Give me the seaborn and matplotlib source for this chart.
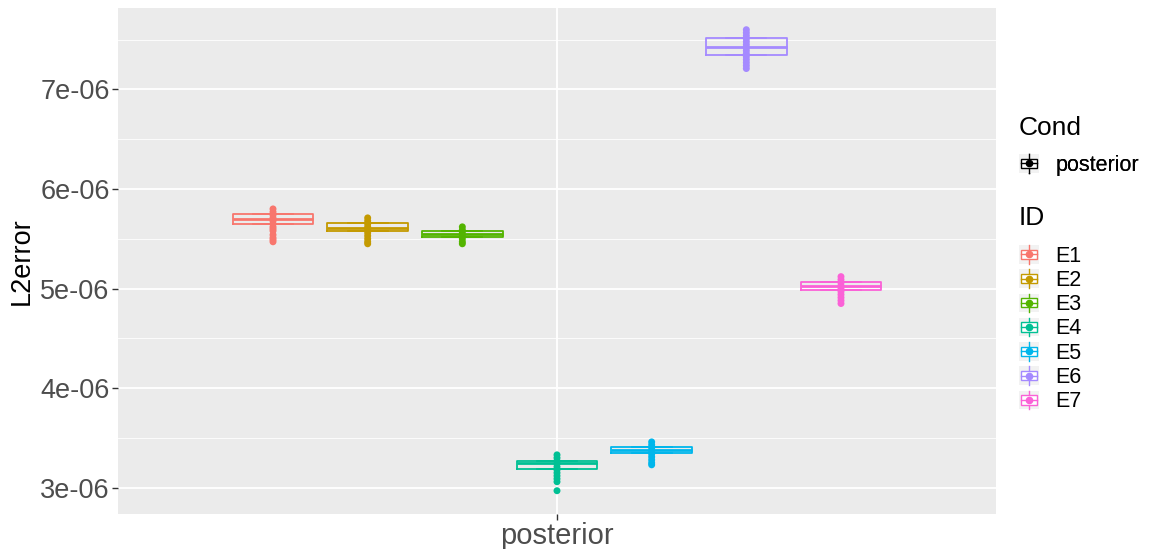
import numpy as np
import pandas as pd
import matplotlib
matplotlib.use('Agg')
import matplotlib.pyplot as plt
import seaborn as sns
from matplotlib.legend_handler import HandlerBase
from matplotlib.patches import Rectangle
from matplotlib.lines import Line2D
from matplotlib.ticker import FuncFormatter, MultipleLocator

# values in units of 1e-6
ids = ['E1', 'E2', 'E3', 'E4', 'E5', 'E6', 'E7']
q1 = [5.647, 5.582, 5.522, 3.190, 3.347, 7.346, 4.987]
med = [5.697, 5.605, 5.548, 3.247, 3.380, 7.427, 5.027]
q3 = [5.752, 5.657, 5.579, 3.273, 3.404, 7.514, 5.070]

pts = {
    'E1': [5.80, 5.77, 5.74, 5.71, 5.68, 5.65, 5.62, 5.60, 5.58, 5.54, 5.51, 5.49, 5.47],
    'E2': [5.71, 5.68, 5.65, 5.62, 5.59, 5.56, 5.53, 5.50, 5.47, 5.45],
    'E3': [5.62, 5.59, 5.56, 5.53, 5.50, 5.47, 5.45],
    'E4': [3.33, 3.30, 3.27, 3.24, 3.21, 3.18, 3.15, 3.12, 3.09, 3.06, 2.97],
    'E5': [3.46, 3.43, 3.40, 3.37, 3.34, 3.31, 3.28, 3.25, 3.23],
    'E6': [7.60, 7.57, 7.54, 7.51, 7.48, 7.45, 7.42, 7.39, 7.36, 7.33, 7.30, 7.27, 7.24, 7.21],
    'E7': [5.12, 5.09, 5.06, 5.03, 5.00, 4.97, 4.94, 4.91, 4.88, 4.85],
}
cond = 'posterior'
colors = ['#F8766D', '#C49A00', '#53B400', '#00C094', '#00B6EB', '#A58AFF', '#FB61D7']

# box table: q1, q1, median, q3, q3 per ID -> zero-length whiskers
box_rows = []
for i, e in enumerate(ids):
    for v in [q1[i], q1[i], med[i], q3[i], q3[i]]:
        box_rows.append({'Cond': cond, 'ID': e, 'L2error': v * 1e-6})
box_df = pd.DataFrame(box_rows)

pt_rows = []
for e in ids:
    for v in pts[e]:
        pt_rows.append({'Cond': cond, 'ID': e, 'L2error': v * 1e-6})
pt_df = pd.DataFrame(pt_rows)

plt.rcParams['font.family'] = ['Liberation Sans', 'DejaVu Sans']

fig = plt.figure(figsize=(11.51, 5.49), dpi=100)
ax = fig.add_axes([118 / 1151, 1 - 514 / 549, (996 - 118) / 1151, (514 - 8) / 549])
ax.set_facecolor('#EBEBEB')

pal = dict(zip(ids, colors))
sns.boxplot(data=box_df, x='Cond', y='L2error', hue='ID', hue_order=ids, palette=pal,
            width=0.8, gap=0.15, fill=False, linewidth=1.3, showfliers=False,
            medianprops={'linewidth': 2.0}, legend=False, ax=ax)
for p in ax.patches:
    p.set_fill(True)
    p.set_facecolor('white')
    p.set_zorder(2)
for ln in ax.lines:
    ln.set_zorder(2.5)

sns.stripplot(data=pt_df, x='Cond', y='L2error', hue='ID', hue_order=ids, palette=pal,
              dodge=True, jitter=False, size=5, linewidth=0, legend=False, zorder=3, ax=ax)

ax.set_xlim(-0.53, 0.53)
ax.set_ylim(2.736e-6, 7.818e-6)
ax.yaxis.set_major_locator(MultipleLocator(1e-6))
ax.yaxis.set_minor_locator(MultipleLocator(0.5e-6))
ax.yaxis.set_major_formatter(FuncFormatter(lambda v, p: '%.0e' % v))
ax.grid(which='major', color='white', linewidth=1.3, zorder=0)
ax.grid(which='minor', axis='y', color='white', linewidth=0.6, zorder=0)
ax.set_axisbelow(True)
for s in ax.spines.values():
    s.set_visible(False)
ax.tick_params(axis='both', which='major', length=4, width=1, color='#333333',
               labelcolor='#4D4D4D', pad=2)
ax.tick_params(axis='y', labelsize=19.5)
ax.tick_params(axis='x', labelsize=21)
ax.tick_params(axis='y', which='minor', length=0)
ax.set_xlabel('')
ax.set_ylabel('L2error', fontsize=19.5, color='black', labelpad=4)


class BoxKey(HandlerBase):
    def create_artists(self, legend, orig, xd, yd, w, h, fontsize, trans):
        c = orig.get_color()
        bx, by = -xd, -yd
        bg = Rectangle((bx, by), w, h, facecolor='#F2F2F2', edgecolor='none', transform=trans)
        wl = Line2D([bx + w / 2, bx + w / 2], [by, by + h], color=c, lw=1, transform=trans)
        box = Rectangle((bx + 0.12 * w, by + 0.25 * h), 0.76 * w, 0.5 * h, facecolor='white',
                        edgecolor=c, lw=1, transform=trans)
        ml = Line2D([bx + 0.12 * w, bx + 0.88 * w], [by + h / 2, by + h / 2], color=c, lw=1, transform=trans)
        dot = Line2D([bx + w / 2], [by + h / 2], marker='o', ms=4.5, color=c, lw=0, transform=trans)
        return [bg, wl, box, ml, dot]


leg_kw = dict(loc='upper left', frameon=False, fontsize=15.5, handlelength=0.95,
              handleheight=0.95, handletextpad=0.75, borderaxespad=0, borderpad=0,
              handler_map={Line2D: BoxKey()})
fig.text(1019 / 1151, 1 - 128 / 549, 'Cond', fontsize=19, va='center', ha='left')
fig.text(1019 / 1151, 1 - 218 / 549, 'ID', fontsize=19, va='center', ha='left')
h1 = [Line2D([], [], color='black')]
leg1 = fig.legend(h1, [cond], bbox_to_anchor=(1019 / 1151, 1 - 154 / 549), **leg_kw)
h2 = [Line2D([], [], color=c) for c in colors]
leg2 = fig.legend(h2, ids, bbox_to_anchor=(1019 / 1151, 1 - 245 / 549),
                  labelspacing=0.12, **leg_kw)
fig.add_artist(leg1)

fig.savefig('out.png', dpi=100)
